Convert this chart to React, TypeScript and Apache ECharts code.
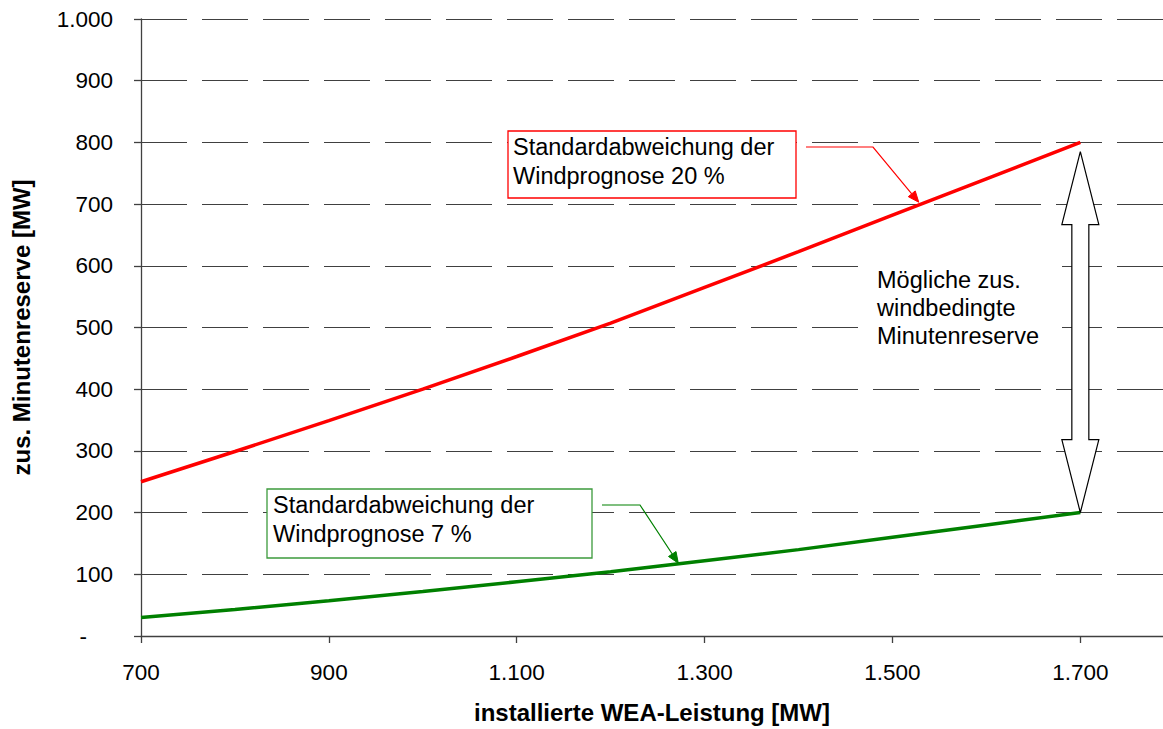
import React, { useEffect, useRef } from "react";
import * as echarts from "echarts";

// ---- data ----
const xValues = [700, 800, 900, 1000, 1100, 1200, 1300, 1400, 1500, 1600, 1700];
const red20Values = [250, 299, 349, 400, 453, 507, 565, 623, 682, 741, 800];
const green7Values = [30, 43, 57, 72, 88, 104, 122, 140, 160, 180, 200];

const redLabel = "Standardabweichung der\nWindprognose 20 %";
const greenLabel = "Standardabweichung der\nWindprognose 7 %";
const rangeLabel = "Mögliche zus.\nwindbedingte\nMinutenreserve";
const xName = "installierte WEA-Leistung [MW]";
const yName = "zus. Minutenreserve [MW]";

// annotation anchors (data coordinates)
const redArrowTip = [1528, 703];
const greenArrowTip = [1272, 118];
const rangeTop = [1700, 785];
const rangeBottom = [1700, 200];

const FONT = "'Liberation Sans', Arial, Helvetica, sans-serif";

const fmt = (v: number) =>
  String(Math.round(v)).replace(/\B(?=(\d{3})+(?!\d))/g, ".");

function arrowHead(from: number[], tip: number[], len = 11, half = 4.5) {
  const dx = tip[0] - from[0];
  const dy = tip[1] - from[1];
  const L = Math.sqrt(dx * dx + dy * dy) || 1;
  const ux = dx / L;
  const uy = dy / L;
  const bx = tip[0] - ux * len;
  const by = tip[1] - uy * len;
  const nx = -uy;
  const ny = ux;
  return {
    base: [bx, by],
    points: [
      [tip[0], tip[1]],
      [bx + nx * half, by + ny * half],
      [bx - nx * half, by - ny * half],
    ],
  };
}

export default function App() {
  const ref = useRef<HTMLDivElement>(null);

  useEffect(() => {
    if (!ref.current) return;
    const chart = echarts.init(ref.current, undefined, { renderer: "svg" });
    const axisColor = "#404040";
    const option: any = {
      animation: false,
      backgroundColor: "#ffffff",
      textStyle: { fontFamily: FONT },
      grid: { left: 141, right: 0, top: 19, bottom: 90, containLabel: false },
      xAxis: {
        type: "value",
        min: 700,
        max: 1788,
        interval: 200,
        name: xName,
        nameLocation: "middle",
        nameGap: 64,
        nameTextStyle: { fontSize: 24, fontWeight: "bold", color: "#000", fontFamily: FONT },
        axisLine: { show: true, onZero: false, lineStyle: { color: axisColor, width: 1.3 } },
        axisTick: { show: true, length: 7, lineStyle: { color: axisColor, width: 1.3 } },
        axisLabel: {
          color: "#000",
          fontSize: 22.5,
          fontFamily: FONT,
          margin: 25,
          showMaxLabel: false,
          formatter: (v: number) => fmt(v),
        },
        splitLine: { show: false },
      },
      yAxis: {
        type: "value",
        min: 0,
        max: 1000,
        interval: 100,
        name: yName,
        nameLocation: "middle",
        nameGap: 108,
        nameTextStyle: { fontSize: 24, fontWeight: "bold", color: "#000", fontFamily: FONT },
        axisLine: { show: true, onZero: false, lineStyle: { color: axisColor, width: 1.3 } },
        axisTick: { show: true, length: 7, lineStyle: { color: axisColor, width: 1.3 } },
        axisLabel: {
          color: "#000",
          fontSize: 22.5,
          fontFamily: FONT,
          margin: 28,
          formatter: (v: number) => (v === 0 ? "{d|-}" : fmt(v)),
          rich: {
            d: { padding: [0, 26, 0, 0], fontSize: 22.5, color: "#000", fontFamily: FONT },
          },
        },
        splitLine: {
          show: true,
          lineStyle: { type: [46, 15], color: axisColor, width: 1 },
        },
      },
      series: [
        {
          type: "line",
          name: "20 %",
          data: xValues.map((x, i) => [x, red20Values[i]]),
          symbol: "none",
          showSymbol: false,
          lineStyle: { color: "#ff0000", width: 3.5 },
          z: 3,
        },
        {
          type: "line",
          name: "7 %",
          data: xValues.map((x, i) => [x, green7Values[i]]),
          symbol: "none",
          showSymbol: false,
          lineStyle: { color: "#008000", width: 3.5 },
          z: 3,
        },
      ],
    };
    chart.setOption(option);

    const p = (d: number[]) => chart.convertToPixel({ gridIndex: 0 }, d) as number[];

    const redTip = p(redArrowTip);
    const redKnee = [873, 147];
    const redHead = arrowHead(redKnee, redTip);
    const greenTip = p(greenArrowTip);
    const greenKnee = [640, 505];
    const greenHead = arrowHead(greenKnee, greenTip);

    const top = p(rangeTop);
    const bot = p(rangeBottom);
    const cx = top[0];
    const headH = 73;
    const headW = 18.5;
    const shaftW = 8.5;
    const dbl = [
      [cx, top[1]],
      [cx + headW, top[1] + headH],
      [cx + shaftW, top[1] + headH],
      [cx + shaftW, bot[1] - headH],
      [cx + headW, bot[1] - headH],
      [cx, bot[1]],
      [cx - headW, bot[1] - headH],
      [cx - shaftW, bot[1] - headH],
      [cx - shaftW, top[1] + headH],
      [cx - headW, top[1] + headH],
    ];

    const textStyle = (text: string) => ({
      text,
      fontSize: 23.5,
      fontFamily: FONT,
      fill: "#000",
      lineHeight: 29,
      align: "left",
      verticalAlign: "top",
    });

    chart.setOption({
      graphic: [
        // red annotation
        {
          type: "rect",
          z: 10,
          shape: { x: 508, y: 131, width: 288, height: 67 },
          style: { fill: "#fff", stroke: "#ff0000", lineWidth: 1.3 },
        },
        { type: "text", z: 11, x: 513, y: 132, style: textStyle(redLabel) },
        {
          type: "polyline",
          z: 10,
          shape: { points: [[806, 147], redKnee, redHead.base] },
          style: { stroke: "#ff0000", lineWidth: 1.2, fill: "none" },
        },
        {
          type: "polygon",
          z: 10,
          shape: { points: redHead.points },
          style: { fill: "#ff0000", stroke: "#ff0000", lineWidth: 1 },
        },
        // green annotation
        {
          type: "rect",
          z: 10,
          shape: { x: 267, y: 489, width: 325, height: 69 },
          style: { fill: "#fff", stroke: "#3c9a3c", lineWidth: 1.3 },
        },
        { type: "text", z: 11, x: 273, y: 490, style: textStyle(greenLabel) },
        {
          type: "polyline",
          z: 10,
          shape: { points: [[602, 505], greenKnee, greenHead.base] },
          style: { stroke: "#008000", lineWidth: 1.2, fill: "none" },
        },
        {
          type: "polygon",
          z: 10,
          shape: { points: greenHead.points },
          style: { fill: "#008000", stroke: "#008000", lineWidth: 1 },
        },
        // range text
        {
          type: "rect",
          z: 10,
          shape: { x: 863, y: 252, width: 199, height: 100 },
          style: { fill: "#fff", stroke: "none" },
        },
        {
          type: "text",
          z: 11,
          x: 877,
          y: 266,
          style: { ...textStyle(rangeLabel), lineHeight: 28 },
        },
        // double arrow
        {
          type: "polygon",
          z: 12,
          shape: { points: dbl },
          style: { fill: "#fff", stroke: "#000", lineWidth: 1.2 },
        },
      ],
    });

    return () => chart.dispose();
  }, []);

  return (
    <div
      ref={ref}
      style={{ position: "absolute", left: 0, top: 0, width: 1163, height: 729, background: "#fff" }}
    />
  );
}
